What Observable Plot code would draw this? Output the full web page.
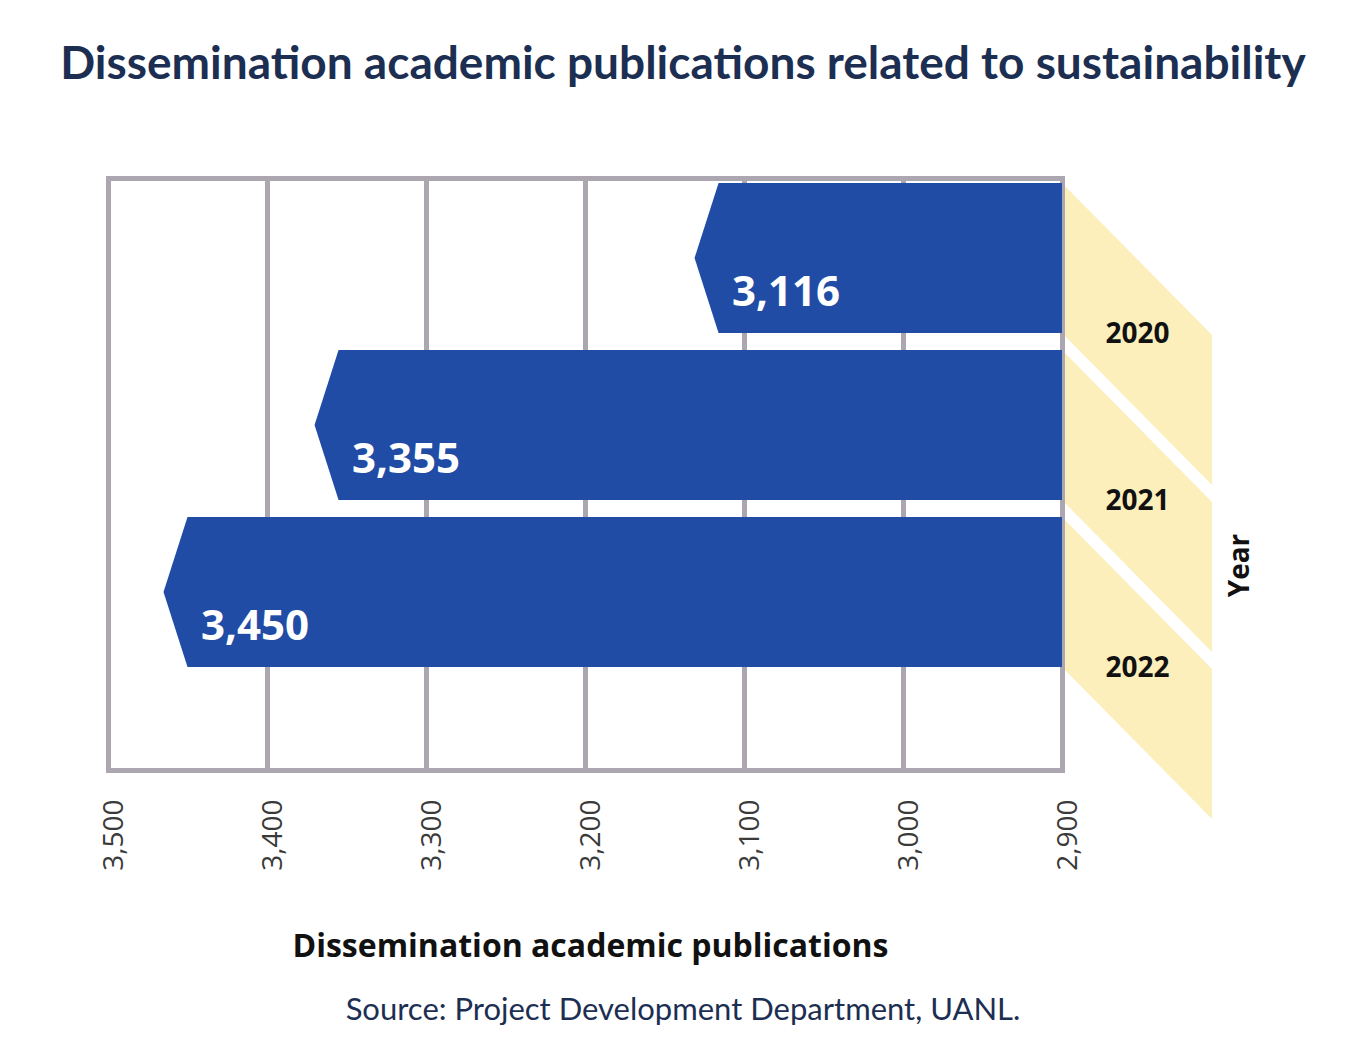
<!DOCTYPE html>
<html>
<head>
<meta charset="utf-8">
<script src="https://cdn.jsdelivr.net/npm/d3@7"></script>
<script src="https://cdn.jsdelivr.net/npm/@observablehq/plot@0.6"></script>
<style>
  body { margin: 0; background: #fff; width: 1366px; }
  #title { height: 120px; box-sizing: border-box; padding-top: 37px; line-height: 50px; text-align: center;
           font-family: Lato, "Open Sans", sans-serif; font-weight: 700; font-size: 46px; color: #1c2f52; }
  #chart svg { display: block; }
  #source { box-sizing: border-box; padding-top: 18px; line-height: 40px; text-align: center;
            font-family: Lato, "Open Sans", sans-serif; font-size: 31px; color: #1c2f52; }
</style>
</head>
<body>
<div id="title">Dissemination academic publications related to sustainability</div>
<div id="chart"></div>
<div id="source">Source: Project Development Department, UANL.</div>
<script>
// ---- data ----
const years = ["2020", "2021", "2022"];
const publications = [3116, 3355, 3450];
const tickValues = [3500, 3400, 3300, 3200, 3100, 3000, 2900];
const baseline = 2900;
const xLabel = "Dissemination academic publications";
const yLabel = "Year";

const data = years.map((year, i) => ({year, value: publications[i]}));
const fmt = d3.format(",");

const BLUE = "#214ca6";
const YELLOW = "#fcefbb";
const GRID = "#aca6b0";

function bandOf(scales) {
  const bw = scales.y.bandwidth;
  return typeof bw === "function" ? bw.call(scales.y) : bw;
}

// arrow-shaped bars
function arrowBars(index, scales) {
  const g = d3.create("svg:g");
  const bw = bandOf(scales);
  for (const i of index) {
    const xr = scales.x(baseline), xl = scales.x(data[i].value);
    const y0 = scales.y(data[i].year), y1 = y0 + bw, ym = (y0 + y1) / 2;
    const tip = 24;
    g.append("path")
      .attr("d", `M${xr},${y0}H${xl}L${xl - tip},${ym}L${xl},${y1}H${xr}Z`)
      .attr("fill", BLUE);
  }
  return g.node();
}

// slanted yellow year bands on the right
function yearBands(index, scales) {
  const g = d3.create("svg:g");
  const bw = bandOf(scales);
  const w = 150, shift = 152;
  for (const i of index) {
    const x0 = scales.x(baseline);
    const y0 = scales.y(data[i].year), y1 = y0 + bw;
    g.append("path")
      .attr("d", `M${x0},${y0}L${x0 + w},${y0 + shift}L${x0 + w},${y1 + shift}L${x0},${y1}Z`)
      .attr("fill", YELLOW);
  }
  return g.node();
}

const chart = Plot.plot({
  width: 1366,
  height: 850,
  marginLeft: 108,
  marginRight: 304,
  marginTop: 58,
  marginBottom: 200,
  style: {fontFamily: "'Open Sans', sans-serif", background: "transparent"},
  x: {domain: [3500, 2900], axis: null},
  y: {type: "band", domain: years, range: [62, 549], paddingInner: 0.1, paddingOuter: 0, axis: null},
  marks: [
    Plot.barX(data, {x1: () => baseline, x2: () => baseline, y: "year", render: yearBands}),
    Plot.ruleX(tickValues, {x: d => d, stroke: GRID, strokeWidth: 5}),
    Plot.frame({stroke: GRID, strokeWidth: 5}),
    Plot.barX(data, {x1: () => baseline, x2: "value", y: "year", render: arrowBars}),
    Plot.text(data, {x: "value", y: "year", text: d => fmt(d.value), textAnchor: "start", dx: 13, dy: 34,
      fill: "white", fontSize: 42, fontWeight: 700}),
    Plot.text(data, {x: () => baseline, y: "year", text: "year", dx: 75, dy: 76,
      fill: "#111", fontSize: 28, fontWeight: 700}),
    Plot.text(tickValues, {x: d => d, text: d => fmt(d), frameAnchor: "bottom", rotate: -90,
      textAnchor: "end", lineAnchor: "middle", dx: 6, dy: 29, fontSize: 28, fill: "#3a3a3a"}),
    Plot.text([xLabel], {text: d => d, frameAnchor: "bottom", textAnchor: "middle", lineAnchor: "middle",
      dx: 5, dy: 176, fontSize: 32, fontWeight: 700, fill: "#111"}),
    Plot.text([yLabel], {text: d => d, frameAnchor: "right", textAnchor: "middle", lineAnchor: "middle",
      rotate: -90, dx: 178, dy: 91, fontSize: 28, fontWeight: 700, fill: "#111"})
  ]
});
document.getElementById("chart").appendChild(chart);
</script>
</body>
</html>
